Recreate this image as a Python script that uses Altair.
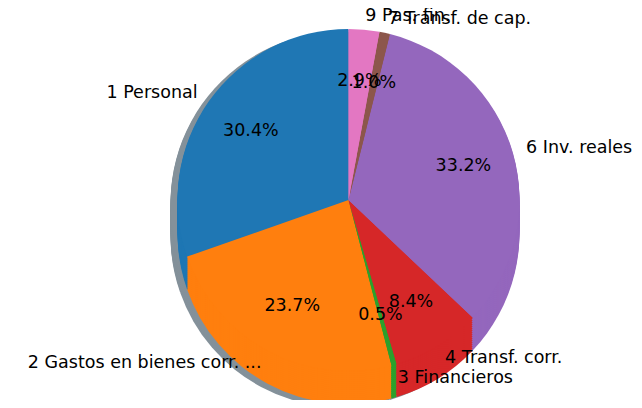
import altair as alt
import pandas as pd

labels = ["1 Personal", "2 Gastos en bienes corr. ...", "3 Financieros",
          "4 Transf. corr.", "6 Inv. reales", "7 Transf. de cap.", "9 Pas. fin."]
values = [30.4, 23.7, 0.5, 8.4, 33.2, 1.0, 2.9]
colors = ["#1f77b4", "#ff7f0e", "#2ca02c", "#d62728", "#9467bd", "#8c564b", "#e377c2"]

df = pd.DataFrame({"label": labels, "value": values, "idx": list(range(len(labels)))})
total = sum(values)

W, H = 626, 392
CX, CY, R = 340.5, 192, 171
DEPTH = 33          # vertical extrusion of the pie body
STEP = 2
FONT = "DejaVu Sans"
FS = 17.5

base = alt.Chart(df).transform_window(
    cum="sum(value)", sort=[alt.SortField("idx", order="descending")], frame=[None, 0]
).transform_calculate(
    start="datum.cum - datum.value",
    mid="datum.cum - datum.value / 2",
    pct="format(datum.value, '.1f') + '%'",
).transform_calculate(
    side=f"sin(datum.mid / {total} * 2 * PI) >= 0 ? 'right' : 'left'"
)

theta_scale = alt.Scale(domain=[0, total], range=[0, 6.283185307179586])
color_scale = alt.Scale(domain=labels, range=colors)

offsets = list(range(DEPTH, -1, -STEP))
if offsets[-1] != 0:
    offsets.append(0)

layers = []
for d in offsets:
    layers.append(base.mark_arc(color="#84919a").encode(
        theta=alt.Theta("start:Q", scale=theta_scale),
        theta2="cum:Q",
        x=alt.value(CX - 7),
        y=alt.value(CY + d + 3),
        radius=alt.value(R),
    ))
for d in offsets:
    layers.append(base.mark_arc().encode(
        theta=alt.Theta("start:Q", scale=theta_scale),
        theta2="cum:Q",
        color=alt.Color("label:N", scale=color_scale, legend=None),
        x=alt.value(CX),
        y=alt.value(CY + d),
        radius=alt.value(R),
    ))

pct_text = base.mark_text(font=FONT, fontSize=FS, color="black", align="center", baseline="middle").encode(
    theta=alt.Theta("mid:Q", scale=theta_scale, stack=None),
    x=alt.value(CX),
    y=alt.value(CY),
    radius=alt.value(R * 0.7),
    text="pct:N",
)

LR = 185

lab_right = base.transform_filter("datum.side == 'right'").mark_text(
    font=FONT, fontSize=FS, color="black", align="left", baseline="middle"
).encode(
    theta=alt.Theta("mid:Q", scale=theta_scale, stack=None),
    x=alt.value(CX),
    y=alt.value(CY),
    radius=alt.value(LR),
    text="label:N",
)

lab_left = base.transform_filter("datum.side == 'left'").mark_text(
    font=FONT, fontSize=FS, color="black", align="right", baseline="middle"
).encode(
    theta=alt.Theta("mid:Q", scale=theta_scale, stack=None),
    x=alt.value(CX),
    y=alt.value(CY),
    radius=alt.value(LR),
    text="label:N",
)

layers += [pct_text, lab_right, lab_left]

chart = alt.layer(*layers).properties(
    width=W, height=H, padding=0,
    autosize=alt.AutoSizeParams(type="none"),
).configure_view(stroke=None)

chart.save("out.html", embed_options={"renderer": "svg", "actions": False})
